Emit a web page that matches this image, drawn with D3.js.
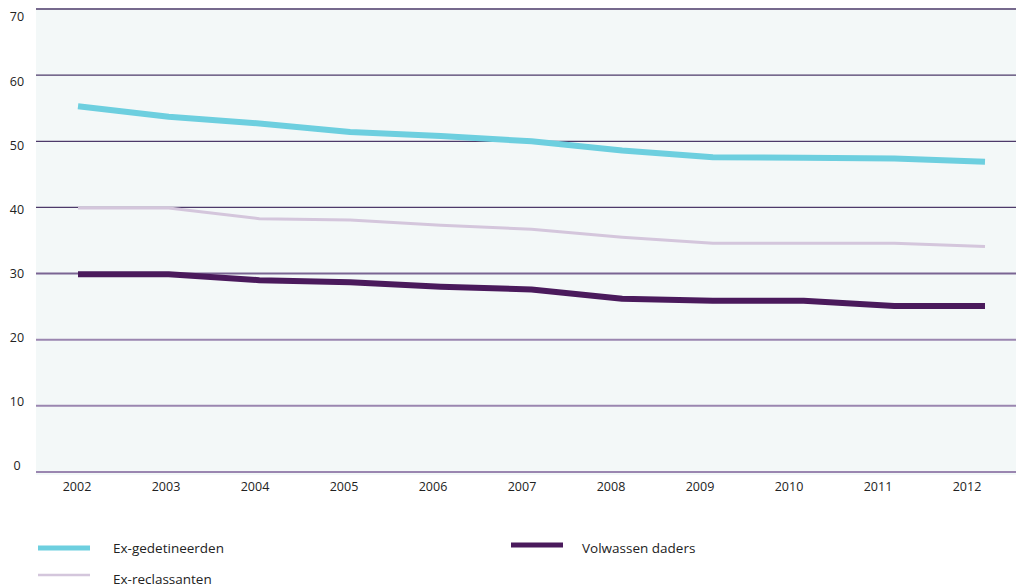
<!DOCTYPE html>
<html>
    <head>
        <meta http-equiv="Content-Type" content="text/html; charset=UTF-8">
        <script src="https://d3js.org/d3.v7.min.js"></script>
        <style>
            html, body {
                margin: 0;
                padding: 0;
                background-color: #ffffff;
                font-family: 'Open Sans', sans-serif;
            }
            svg text {
                fill: #222222;
            }
        </style>
        <title>Recidive</title>
    </head>
    <body>
        <script>
            // data
            var years = ['2002', '2003', '2004', '2005', '2006', '2007', '2008', '2009', '2010', '2011', '2012'];
            var yTicks = [0, 10, 20, 30, 40, 50, 60, 70];
            var exGedetineerden = [55.3, 53.7, 52.7, 51.4, 50.8, 50.0, 48.6, 47.6, 47.5, 47.4, 46.9];
            var exReclassanten = [39.9, 39.9, 38.3, 38.1, 37.3, 36.7, 35.5, 34.6, 34.6, 34.6, 34.1];
            var volwassenDaders = [29.9, 29.9, 29.0, 28.7, 28.0, 27.6, 26.2, 25.9, 25.9, 25.1, 25.1];

            var ww = 1016;
            var hh = 587;

            var series = [
                { name: 'Ex-reclassanten', values: exReclassanten, color: '#d4c6dc', width: 3 },
                { name: 'Ex-gedetineerden', values: exGedetineerden, color: '#6dcfdf', width: 6 },
                { name: 'Volwassen daders', values: volwassenDaders, color: '#4a1a5c', width: 6 }
            ];

            var svg = d3.select('body').append('svg').attr('width', ww).attr('height', hh);

            var plot = { left: 36, right: 1016, top: 8, bottom: 475 };

            var x = d3.scalePoint().domain(years).range([78, 985]);
            var xLab = d3.scalePoint().domain(years).range([77, 967]);
            var y = d3.scaleLinear().domain([0, 70]).range([472, 9]);
            var yLab = d3.scaleLinear().domain([0, 70]).range([466, 17]);

            svg.append('rect')
                .attr('x', plot.left).attr('y', plot.top)
                .attr('width', plot.right - plot.left).attr('height', plot.bottom - plot.top)
                .style('fill', '#f3f8f8');

            // gridlines, darker at the top
            var gridColor = function(d) {
                if (d >= 40) return '#4d3a6a';
                if (d == 30) return '#7a6593';
                return '#9a86b0';
            };
            svg.selectAll('.grid').data(yTicks).enter().append('line')
                .attr('class', 'grid')
                .attr('x1', plot.left).attr('x2', plot.right)
                .attr('y1', function(d) { return y(d); })
                .attr('y2', function(d) { return y(d); })
                .style('stroke', gridColor)
                .style('stroke-width', function(d) { return d >= 40 ? 1.3 : 2; });

            svg.selectAll('.ylab').data(yTicks).enter().append('text')
                .attr('class', 'ylab')
                .attr('x', 17)
                .attr('y', function(d) { return yLab(d); })
                .attr('dy', '0.35em')
                .attr('text-anchor', 'middle')
                .style('font-size', '12.5px')
                .text(function(d) { return d; });

            svg.selectAll('.xlab').data(years).enter().append('text')
                .attr('class', 'xlab')
                .attr('x', function(d) { return xLab(d); })
                .attr('y', 487)
                .attr('dy', '0.35em')
                .attr('text-anchor', 'middle')
                .style('font-size', '12.5px')
                .text(function(d) { return d; });

            var line = d3.line()
                .x(function(d, i) { return x(years[i]); })
                .y(function(d) { return y(d); });

            svg.selectAll('.series').data(series).enter().append('path')
                .attr('class', 'series')
                .attr('d', function(d) { return line(d.values); })
                .style('fill', 'none')
                .style('stroke', function(d) { return d.color; })
                .style('stroke-width', function(d) { return d.width; })
                .style('stroke-linejoin', 'round');

            // legend
            var legend = [
                { s: series[1], lx: 38, ly: 548, ty: 548 },
                { s: series[0], lx: 38, ly: 575, ty: 579 },
                { s: series[2], lx: 511, ly: 545, ty: 548 }
            ];
            var lg = svg.selectAll('.legend').data(legend).enter().append('g').attr('class', 'legend');
            lg.append('line')
                .attr('x1', function(d) { return d.lx; })
                .attr('x2', function(d) { return d.lx + 52; })
                .attr('y1', function(d) { return d.ly; })
                .attr('y2', function(d) { return d.ly; })
                .style('stroke', function(d) { return d.s.color; })
                .style('stroke-width', function(d) { return d.s.width == 3 ? 2.5 : 5; });
            lg.append('text')
                .attr('x', function(d) { return d.lx + (d.lx > 100 ? 71 : 75); })
                .attr('y', function(d) { return d.ty; })
                .attr('dy', '0.35em')
                .style('font-size', '13.5px')
                .text(function(d) { return d.s.name; });
        </script>
    </body>
</html>
